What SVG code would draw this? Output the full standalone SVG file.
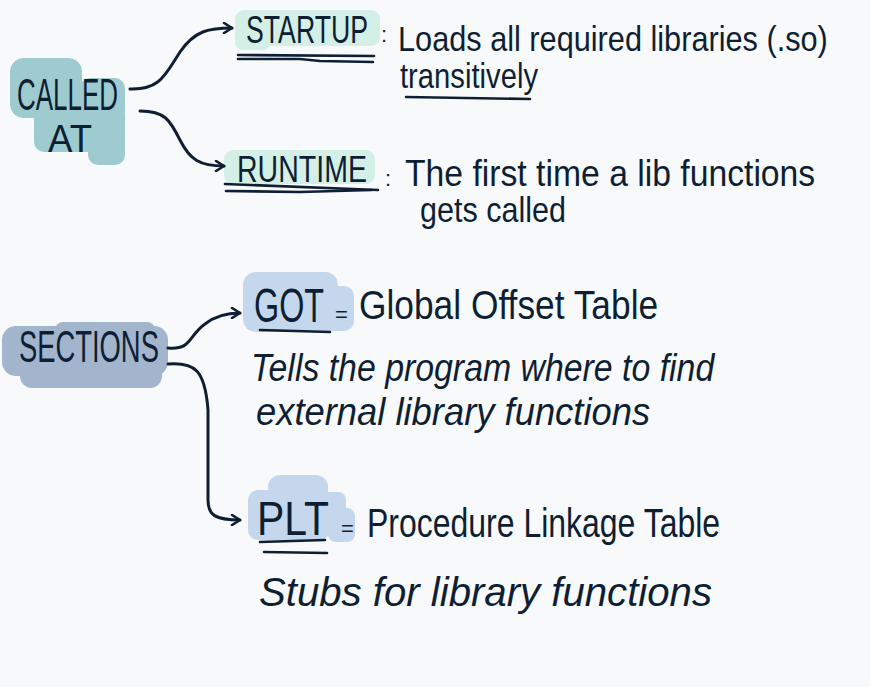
<svg xmlns="http://www.w3.org/2000/svg" width="870" height="687" viewBox="0 0 870 687">
<defs>
<style>
.t{font-family:"Liberation Sans","DejaVu Sans",sans-serif;fill:#0f1f33;}
.i{font-family:"Liberation Sans","DejaVu Sans",sans-serif;font-style:italic;fill:#0f1f33;}
.p{font-family:"Liberation Sans","DejaVu Sans",sans-serif;fill:#0f1f33;font-size:22px;}
.ln{fill:none;stroke:#0f1f33;stroke-width:3;stroke-linecap:round;stroke-linejoin:round;}
.ul{fill:none;stroke:#0f1f33;stroke-width:2.6;stroke-linecap:round;}
.teal{fill:#9ecbd0;}
.mint{fill:#d4efe6;}
.slate{fill:#a2b5cd;}
.sky{fill:#c5d7ec;}
</style>
<marker id="ah" viewBox="0 0 12 12" refX="10" refY="6" markerWidth="12" markerHeight="12" markerUnits="userSpaceOnUse" orient="auto">
<path d="M2 1 L10 6 L2 11" fill="none" stroke="#0f1f33" stroke-width="2.6" stroke-linecap="round" stroke-linejoin="round"/>
</marker>
</defs>
<rect width="870" height="687" fill="#f8f9fb"/>

<g id="called-at">
<rect class="teal" x="10" y="58" width="72" height="60" rx="14"/>
<rect class="teal" x="80" y="78" width="45" height="44" rx="10"/>
<rect class="teal" x="34" y="106" width="91" height="46" rx="10"/>
<rect class="teal" x="88" y="112" width="37" height="53" rx="10"/>
<text class="t" transform="translate(17,110) scale(0.59,1)" font-size="44" textLength="171.2" lengthAdjust="spacingAndGlyphs">CALLED</text>
<text class="t" transform="translate(48,152) scale(0.905,1)" font-size="38" textLength="48.6" lengthAdjust="spacingAndGlyphs">AT</text>
</g>

<g id="startup">
<rect class="mint" x="235" y="10" width="145" height="36" rx="9"/>
<rect class="mint" x="235" y="30" width="36" height="20" rx="8"/>
<text class="t" transform="translate(246,43) scale(0.688,1)" font-size="38" textLength="177.3" lengthAdjust="spacingAndGlyphs">STARTUP</text>
<text class="p" x="381" y="42">:</text>
<path class="ul" d="M238 55 L374 56"/>
<path class="ul" d="M238 59 L300 59 L320 61 L373 62"/>
<text class="t" transform="translate(398,51) scale(0.877,1)" font-size="35" textLength="490.1" lengthAdjust="spacingAndGlyphs">Loads all required libraries (.so)</text>
<text class="t" transform="translate(400,88) scale(0.835,1)" font-size="35" textLength="165.3" lengthAdjust="spacingAndGlyphs">transitively</text>
<path class="ul" d="M406 97 L530 99"/>
</g>

<g id="runtime">
<rect class="mint" x="224" y="150" width="151" height="34" rx="9"/>
<text class="t" transform="translate(237,182) scale(0.771,1)" font-size="37" textLength="168.5" lengthAdjust="spacingAndGlyphs">RUNTIME</text>
<text class="p" x="385" y="186">:</text>
<path class="ul" d="M225 184 L378 190"/>
<path class="ul" d="M226 191 L300 192 L372 190"/>
<text class="t" transform="translate(405,186) scale(0.911,1)" font-size="37" textLength="450.3" lengthAdjust="spacingAndGlyphs">The first time a lib functions</text>
<text class="t" transform="translate(420,222) scale(0.873,1)" font-size="35" textLength="167.3" lengthAdjust="spacingAndGlyphs">gets called</text>
</g>

<g id="sections">
<rect class="slate" x="2" y="326" width="166" height="50" rx="14"/>
<rect class="slate" x="20" y="338" width="142" height="50" rx="12"/>
<rect class="slate" x="55" y="322" width="100" height="20" rx="8"/>
<text class="t" transform="translate(19,362) scale(0.622,1)" font-size="44" textLength="224.9" lengthAdjust="spacingAndGlyphs">SECTIONS</text>
</g>

<g id="got">
<rect class="sky" x="243" y="272" width="95" height="60" rx="13"/>
<rect class="sky" x="318" y="286" width="36" height="45" rx="10"/>
<text class="t" transform="translate(254,322) scale(0.673,1)" font-size="48" textLength="104" lengthAdjust="spacingAndGlyphs">GOT</text>
<text class="p" x="335" y="322">=</text>
<path class="ul" d="M260 330 L330 332"/>
<text class="t" transform="translate(359,319) scale(0.847,1)" font-size="41" textLength="353.2" lengthAdjust="spacingAndGlyphs">Global Offset Table</text>
<text class="i" transform="translate(251,381) scale(0.867,1)" font-size="38" textLength="534.3" lengthAdjust="spacingAndGlyphs">Tells the program where to find</text>
<text class="i" transform="translate(256,425) scale(0.957,1)" font-size="38" textLength="411.8" lengthAdjust="spacingAndGlyphs">external library functions</text>
</g>

<g id="plt">
<rect class="sky" x="248" y="490" width="82" height="50" rx="10"/>
<rect class="sky" x="268" y="475" width="60" height="40" rx="12"/>
<rect class="sky" x="318" y="492" width="28" height="44" rx="8"/>
<rect class="sky" x="328" y="508" width="27" height="34" rx="8"/>
<text class="t" transform="translate(257,535) scale(0.818,1)" font-size="48" textLength="88" lengthAdjust="spacingAndGlyphs">PLT</text>
<text class="p" x="341" y="536">=</text>
<path class="ul" d="M260 542 L325 540"/>
<path class="ul" d="M264 552 L327 553"/>
<text class="t" transform="translate(367,537) scale(0.771,1)" font-size="41" textLength="458" lengthAdjust="spacingAndGlyphs">Procedure Linkage Table</text>
<text class="i" x="259" y="606" font-size="40" textLength="453" lengthAdjust="spacingAndGlyphs">Stubs for library functions</text>
</g>

<g id="connectors">
<path class="ln" marker-end="url(#ah)" d="M130 89 C160 90 165 75 180 52 C195 30 210 28 232 28"/>
<path class="ln" marker-end="url(#ah)" d="M140 111 C165 111 170 120 180 140 C190 160 200 166 224 166"/>
<path class="ln" marker-end="url(#ah)" d="M168 348 C192 350 188 336 205 324 C215 316 225 313 240 313"/>
<path class="ln" marker-end="url(#ah)" d="M168 364 C195 362 205 370 208 410 L208 500 C208 515 215 520 240 520"/>
</g>
</svg>
